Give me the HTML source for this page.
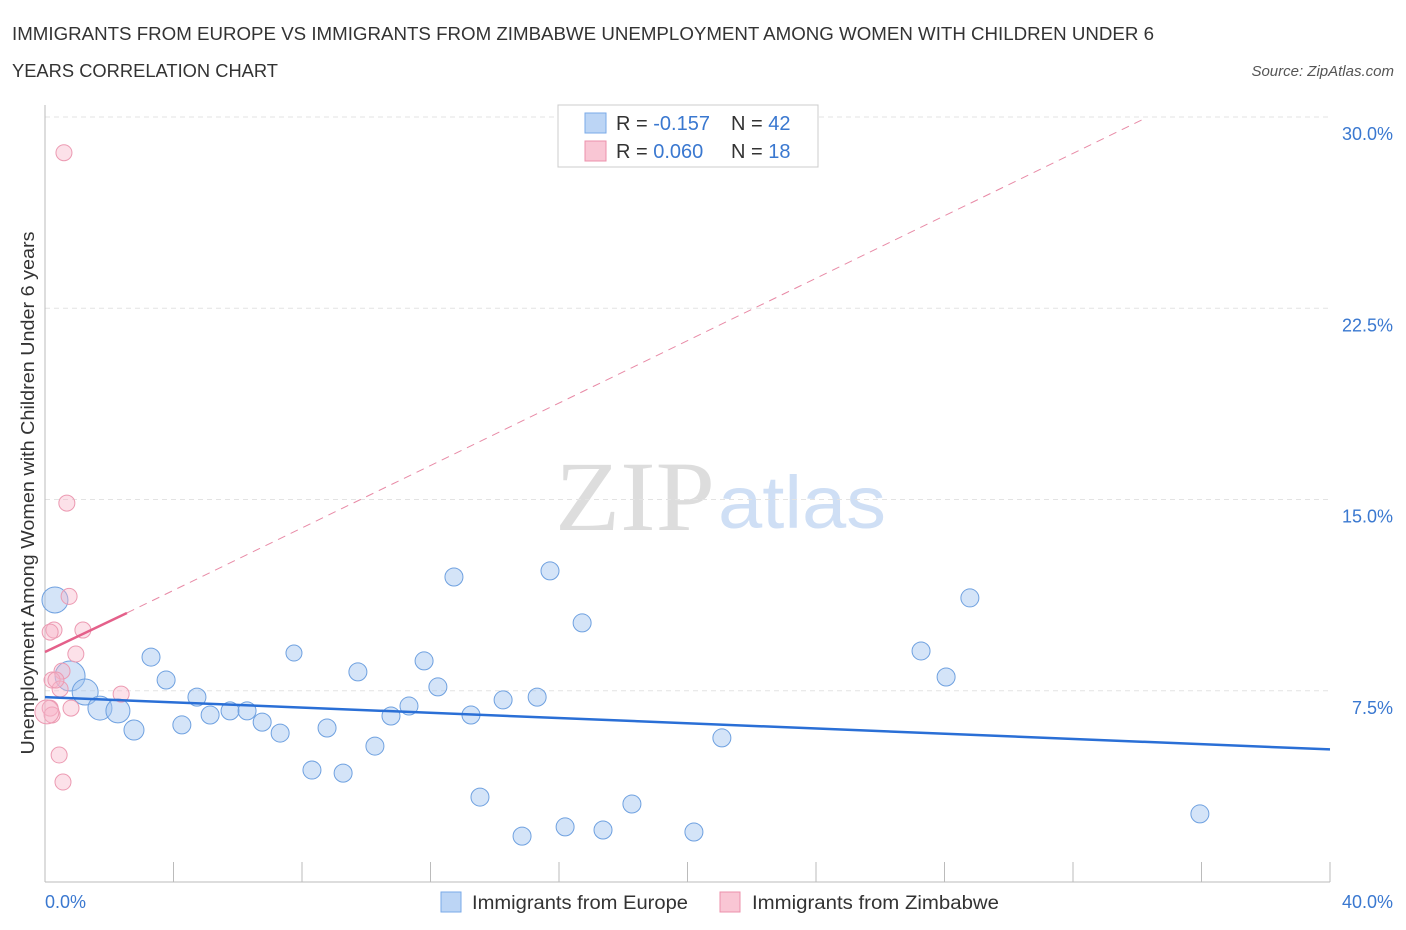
<!DOCTYPE html>
<html><head><meta charset="utf-8"><style>
body{margin:0;background:#fff;font-family:"Liberation Sans",sans-serif;}
svg{display:block}
</style></head><body>
<svg id="chart" width="1406" height="930">
<text x="12" y="40" font-size="18" fill="#333" textLength="1142" lengthAdjust="spacingAndGlyphs">IMMIGRANTS FROM EUROPE VS IMMIGRANTS FROM ZIMBABWE UNEMPLOYMENT AMONG WOMEN WITH CHILDREN UNDER 6</text>
<text x="12" y="77" font-size="18" fill="#333" textLength="266" lengthAdjust="spacingAndGlyphs">YEARS CORRELATION CHART</text>
<text x="1394" y="76" font-size="15" fill="#555" font-style="italic" text-anchor="end">Source: ZipAtlas.com</text>
<text x="555" y="530" font-size="100" fill="#ddd" textLength="160" lengthAdjust="spacingAndGlyphs" font-family="Liberation Serif,serif">ZIP</text>
<text x="718" y="528" font-size="74" fill="#cfdff5" textLength="168" lengthAdjust="spacingAndGlyphs">atlas</text>
<text transform="translate(34,493) rotate(-90)" font-size="18" fill="#333" text-anchor="middle" textLength="523" lengthAdjust="spacingAndGlyphs">Unemployment Among Women with Children Under 6 years</text>
<g id="grid"></g><g id="marks"></g>
<g>
<rect x="558" y="105" width="260" height="62" fill="#fff" stroke="#ccc"/>
<rect x="585" y="113" width="21" height="20" fill="#bcd5f5" stroke="#7aaae8"/>
<rect x="585" y="141" width="21" height="20" fill="#f9c6d4" stroke="#ec90ab"/>
<text x="616" y="130" font-size="20" fill="#333">R = <tspan fill="#3a78d0">-0.157</tspan></text>
<text x="731" y="130" font-size="20" fill="#333">N = <tspan fill="#3a78d0">42</tspan></text>
<text x="616" y="158" font-size="20" fill="#333">R = <tspan fill="#3a78d0">0.060</tspan></text>
<text x="731" y="158" font-size="20" fill="#333">N = <tspan fill="#3a78d0"> 18</tspan></text>
</g>
<g>
<rect x="441" y="892" width="20" height="20" fill="#bcd5f5" stroke="#7aaae8"/>
<text x="472" y="909" font-size="19" fill="#333" textLength="216" lengthAdjust="spacingAndGlyphs">Immigrants from Europe</text>
<rect x="720" y="892" width="20" height="20" fill="#f9c6d4" stroke="#ec90ab"/>
<text x="752" y="909" font-size="19" fill="#333" textLength="247" lengthAdjust="spacingAndGlyphs">Immigrants from Zimbabwe</text>
</g>
</svg>
<script>
const euX=[0.31,0.78,1.25,1.71,2.27,2.77,3.3,3.77,4.26,4.73,5.14,5.76,6.29,6.76,7.32,7.75,8.31,8.78,9.28,9.74,10.27,10.77,11.33,11.8,12.23,12.73,13.26,13.54,14.26,14.85,15.32,15.72,16.19,16.72,17.37,18.27,20.2,21.07,27.27,28.05,28.79,35.95];
const euY=[11.06,8.08,7.45,6.82,6.71,5.96,8.82,7.92,6.16,7.25,6.55,6.71,6.71,6.27,5.84,8.98,4.39,6.04,4.27,8.24,5.33,6.51,6.9,8.67,7.65,11.96,6.55,3.33,7.14,1.8,7.25,12.2,2.16,10.16,2.04,3.06,1.96,5.65,9.06,8.04,11.14,2.67];
const euR=[13,15,13,12,12,10,9,9,9,9,9,9,9,9,9,8,9,9,9,9,9,9,9,9,9,9,9,9,9,9,9,9,9,9,9,9,9,9,9,9,9,9];
const zwX=[0.59,0.68,0.75,0.28,1.18,0.96,0.53,0.22,0.47,0.16,0.22,0.81,2.37,0.44,0.56,0.06,0.34,0.16];
const zwY=[28.6,14.86,11.2,9.88,9.88,8.94,8.27,7.92,7.57,6.82,6.55,6.82,7.37,4.98,3.92,6.67,7.92,9.8];
const zwR=[8,8,8,8,8,8,8,8,8,8,8,8,8,8,8,12,8,8];
const yTicks=[7.5,15,22.5,30];
const xTickVals=[0,4,8,12,16,20,24,28,32,36,40];
const X=v=>45+v*32.125, Y=v=>882-v*25.5;
const NS="http://www.w3.org/2000/svg";
function mk(t,a,p){const e=document.createElementNS(NS,t);for(const k in a)e.setAttribute(k,a[k]);p.appendChild(e);return e;}
const g=document.getElementById('grid'), m=document.getElementById('marks');
yTicks.forEach(v=>{
 const l=mk('line',{x1:45,x2:1330,y1:Y(v),y2:Y(v),stroke:'#e3e3e3','stroke-dasharray':'5,4'},g);
 
 
 const t=mk('text',{x:1393,y:Y(v)+23,'font-size':18,fill:'#3a78d0','text-anchor':'end'},g);
 t.textContent=v.toFixed(1)+'%';
 
 
});
const ax=mk('line',{x1:45,x2:1330,y1:882,y2:882,stroke:'#bbb'},g);


const ay=mk('line',{x1:45,x2:45,y1:105,y2:882,stroke:'#bbb'},g);


xTickVals.forEach(v=>{
 const l=mk('line',{x1:X(v),x2:X(v),y1:862,y2:882,stroke:'#bbb'},g);
 
 
});
[[0,'start'],[40,'end']].forEach(([v,a])=>{
 const t=mk('text',{x:X(v)+(v?63:0),y:908,'font-size':18,fill:'#3a78d0','text-anchor':a},g);
 t.textContent=v.toFixed(1)+'%';
 
 
});
euX.forEach((x,i)=>{
 const c=mk('circle',{cx:X(x),cy:Y(euY[i]),r:euR[i],fill:'rgba(160,196,240,0.45)',stroke:'#6fa1e0','stroke-width':1},m);
 
 
});
zwX.forEach((x,i)=>{
 const c=mk('circle',{cx:X(x),cy:Y(zwY[i]),r:zwR[i],fill:'rgba(248,180,200,0.4)',stroke:'#ec9ab2','stroke-width':1},m);
 
 
});
const bl=mk('line',{x1:X(0),y1:Y(7.25),x2:X(40),y2:Y(5.2),stroke:'#2a6fd6','stroke-width':2.5},m);


const pd=mk('line',{x1:X(2.55),y1:Y(10.55),x2:X(34.25),y2:Y(29.95),stroke:'#e88aa6','stroke-width':1,'stroke-dasharray':'8,6'},m);


const ps=mk('line',{x1:X(0),y1:Y(9.02),x2:X(2.55),y2:Y(10.55),stroke:'#e4608a','stroke-width':2.5},m);


</script>
</body></html>
